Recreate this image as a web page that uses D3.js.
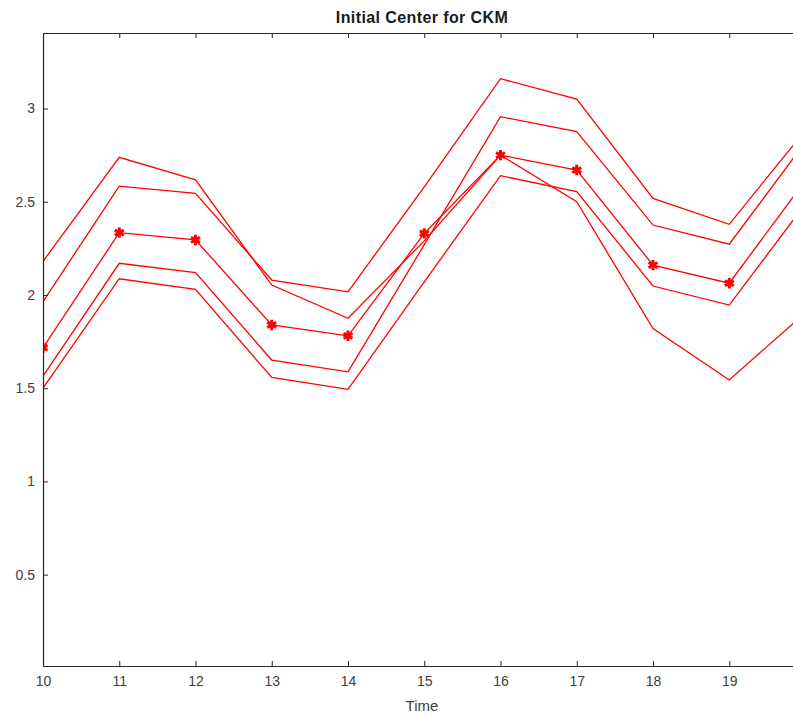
<!DOCTYPE html>
<html>
<head>
<meta charset="utf-8">
<script src="https://cdn.jsdelivr.net/npm/d3@7"></script>
<style>
  body { margin: 0; background: #fff; }
  svg text { font-family: "Liberation Sans", Arial, sans-serif; }
</style>
</head>
<body>
<svg id="chart" width="793" height="717"></svg>
<script>
// time points (the last one lies past the visible right edge)
var times = [10, 11, 12, 13, 14, 15, 16, 17, 18, 19, 20];

// cluster members
var series1 = [2.18, 2.738, 2.617, 2.053, 1.875, 2.29, 2.75, 2.50, 1.82, 1.544, 1.906];
var series2 = [1.964, 2.584, 2.545, 2.08, 2.017, 2.58, 3.16, 3.05, 2.518, 2.379, 2.885];
var series3 = [1.565, 2.17, 2.12, 1.651, 1.588, 2.27, 2.956, 2.876, 2.375, 2.272, 2.821];
var series4 = [1.50, 2.087, 2.03, 1.558, 1.494, 2.07, 2.64, 2.554, 2.048, 1.946, 2.489];

// initial center (drawn with * markers)
var center = [1.717, 2.334, 2.295, 1.839, 1.781, 2.33, 2.75, 2.67, 2.16, 2.063, 2.615];

var yTicks = [0.5, 1, 1.5, 2, 2.5, 3];
var xTicks = [10, 11, 12, 13, 14, 15, 16, 17, 18, 19];

var svg = d3.select("#chart"),
    margin = {top: 33, right: 0, bottom: 51, left: 43},
    width = +svg.attr("width") - margin.left - margin.right,
    height = +svg.attr("height") - margin.top - margin.bottom;

var x = d3.scaleLinear().domain([10, 19.836]).range([0, width]);
var y = d3.scaleLinear().domain([0.01, 3.405]).range([height, 0]);

svg.append("defs").append("clipPath").attr("id", "clip")
  .append("rect").attr("width", width).attr("height", height);

var g = svg.append("g")
    .attr("transform", "translate(" + margin.left + "," + margin.top + ")");

var line = d3.line()
    .x(function(d, i) { return x(times[i]); })
    .y(function(d) { return y(d); });

var plot = g.append("g").attr("clip-path", "url(#clip)");

[series1, series2, series3, series4, center].forEach(function(s) {
  plot.append("path")
    .datum(s)
    .attr("fill", "none")
    .attr("stroke", "#ff0000")
    .attr("stroke-width", 1.3)
    .attr("stroke-linejoin", "miter")
    .attr("d", line);
});

// asterisk markers on the center
var star = d3.symbol().type(d3.symbolAsterisk).size(75);
plot.selectAll("path.marker")
  .data(center.slice(0, 10))
  .enter().append("path")
    .attr("class", "marker")
    .attr("transform", function(d, i) { return "translate(" + x(times[i]) + "," + y(d) + ")"; })
    .attr("d", star)
    .attr("fill", "none")
    .attr("stroke", "#ff0000")
    .attr("stroke-width", 3);

// axes
var axisColor = "#262626";

g.append("g")
    .attr("transform", "translate(0," + height + ")")
    .call(d3.axisBottom(x).tickValues(xTicks).tickSizeInner(-5).tickSizeOuter(0).tickPadding(10))
    .call(function(a) {
      a.select(".domain").attr("stroke", axisColor).attr("stroke-width", 1.2);
      a.selectAll(".tick line").attr("stroke", axisColor);
      a.selectAll("text").attr("fill", "#404040").attr("font-size", 14);
    });

g.append("g")
    .call(d3.axisTop(x).tickValues(xTicks).tickSizeInner(-5).tickSizeOuter(0).tickFormat(""))
    .call(function(a) {
      a.select(".domain").attr("stroke", axisColor).attr("stroke-width", 1.2);
      a.selectAll(".tick line").attr("stroke", axisColor);
    });

g.append("g")
    .call(d3.axisLeft(y).tickValues(yTicks).tickSizeInner(-5).tickSizeOuter(0).tickPadding(8)
      .tickFormat(function(d) { return d; }))
    .call(function(a) {
      a.select(".domain").attr("stroke", axisColor).attr("stroke-width", 1.2);
      a.selectAll(".tick line").attr("stroke", axisColor);
      a.selectAll("text").attr("fill", "#404040").attr("font-size", 14);
    });

// title and label
svg.append("text")
    .attr("x", margin.left + width / 2 + 4)
    .attr("y", 23)
    .attr("text-anchor", "middle")
    .attr("font-weight", "bold")
    .attr("font-size", 16)
    .attr("letter-spacing", 0.4)
    .attr("fill", "#1a1a1a")
    .text("Initial Center for CKM");

svg.append("text")
    .attr("x", margin.left + width / 2 + 4)
    .attr("y", 711)
    .attr("text-anchor", "middle")
    .attr("font-size", 15)
    .attr("fill", "#404040")
    .text("Time");
</script>
</body>
</html>
